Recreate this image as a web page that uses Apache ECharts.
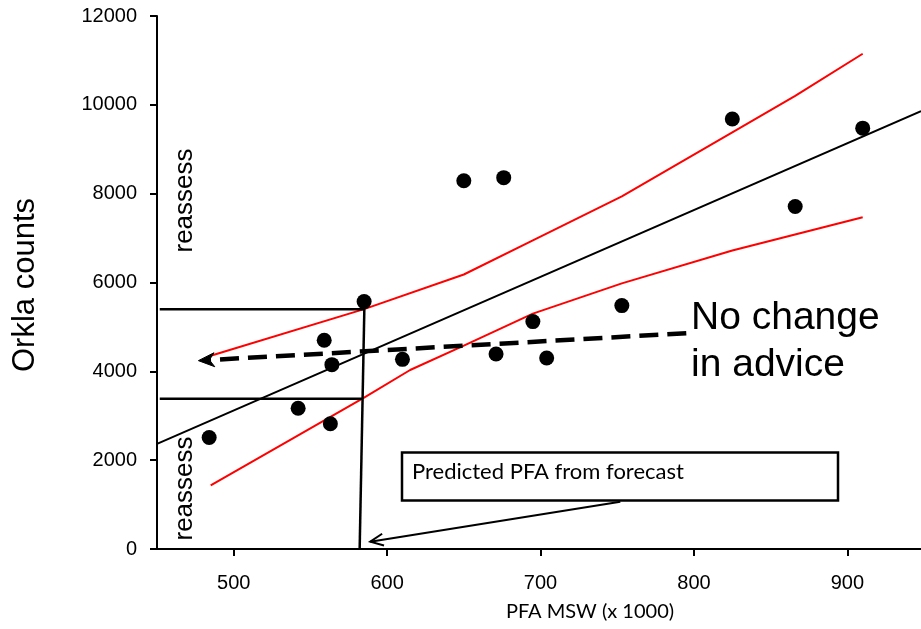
<!DOCTYPE html>
<html>
<head>
<meta charset="utf-8">
<script src="https://cdn.jsdelivr.net/npm/echarts@6/dist/echarts.min.js"></script>
<style>
html,body{margin:0;padding:0;background:#fff;}
#chart{width:921px;height:629px;}
</style>
</head>
<body>
<div id="chart"></div>
<script>
// Observed stock data: PFA MSW (x 1000) vs Orkla counts
const pfa    = [484, 542, 563, 559, 564, 585, 610, 650, 676, 671, 695, 704, 753, 825, 866, 910];
const counts = [2510, 3170, 2820, 4700, 4150, 5570, 4270, 8290, 8360, 4390, 5120, 4300, 5480, 9680, 7710, 9475];

// Regression line end points
const fitX = [450, 948];
const fitY = [2365, 9860];

// Upper and lower prediction bands
const upperX = [485, 585, 650, 695, 753, 825, 866, 910];
const upperY = [4350, 5400, 6180, 6950, 7940, 9380, 10200, 11150];
const lowerX = [485, 540, 585, 615, 650, 695, 753, 825, 910];
const lowerY = [1430, 2520, 3410, 4030, 4580, 5300, 5980, 6720, 7470];

// Predicted PFA guide lines (x, y pairs)
const guideVertX = [585.2, 582.1];
const guideVertY = [5495, 0];
const guideTopX = [451.8, 585];
const guideTopY = [5400, 5400];
const guideBotX = [451.8, 584];
const guideBotY = [3385, 3385];

// Arrows: [x tail, y tail, x tip, y tip]
const adviceArrow = [795, 4858, 477, 4241];
const forecastArrow = [752, 1065, 589, 164];

// Tick labels
const xTicks = [500, 600, 700, 800, 900];

const zip = (xs, ys) => xs.map((x, i) => [x, ys[i]]);

const chart = echarts.init(document.getElementById('chart'), null, {renderer: 'canvas'});

function arrowItem(params, api) {
  const a = api.coord([api.value(0), api.value(1)]);
  const b = api.coord([api.value(2), api.value(3)]);
  const dx = b[0] - a[0], dy = b[1] - a[1];
  const len = Math.sqrt(dx * dx + dy * dy);
  const ux = dx / len, uy = dy / len;
  const px = -uy, py = ux;
  const kind = params.seriesName;
  if (kind === 'advice') {
    const hl = 16, hw = 7, notch = 11;
    const base = [b[0] - ux * notch, b[1] - uy * notch];
    return {
      type: 'group',
      children: [
        {type: 'line', shape: {x1: a[0], y1: a[1], x2: base[0], y2: base[1]},
         style: {stroke: '#000', lineWidth: 4.5, lineDash: [19, 9], fill: null}},
        {type: 'polygon', shape: {points: [
          [b[0], b[1]],
          [b[0] - ux * hl + px * hw, b[1] - uy * hl + py * hw],
          [base[0], base[1]],
          [b[0] - ux * hl - px * hw, b[1] - uy * hl - py * hw]
        ]}, style: {fill: '#000', stroke: '#000', lineWidth: 1}}
      ]
    };
  }
  const hl = 13, hw = 6;
  return {
    type: 'group',
    children: [
      {type: 'line', shape: {x1: a[0], y1: a[1], x2: b[0], y2: b[1]},
       style: {stroke: '#000', lineWidth: 2, fill: null}},
      {type: 'polyline', shape: {points: [
        [b[0] - ux * hl + px * hw, b[1] - uy * hl + py * hw],
        [b[0], b[1]],
        [b[0] - ux * hl - px * hw, b[1] - uy * hl - py * hw]
      ]}, style: {stroke: '#000', lineWidth: 2, fill: null}}
    ]
  };
}

const lineBase = (name, data, color, width) => ({
  name, type: 'line', data, symbol: 'none', silent: true, animation: false,
  lineStyle: {color, width, opacity: 1}, z: 3
});

const option = {
  animation: false,
  backgroundColor: '#fff',
  grid: {left: 157, right: 0, top: 16, bottom: 80, containLabel: false},
  xAxis: {
    type: 'value', min: 450, max: 948,
    axisLine: {show: true, onZero: false, lineStyle: {color: '#000', width: 2}},
    axisTick: {show: true, customValues: xTicks, length: 7, lineStyle: {color: '#000', width: 2}},
    axisLabel: {customValues: xTicks, color: '#000', fontSize: 20, fontFamily: 'Liberation Sans', margin: 24,
                formatter: v => String(v)},
    splitLine: {show: false}
  },
  yAxis: {
    type: 'value', min: 0, max: 12000, interval: 2000,
    axisLine: {show: true, lineStyle: {color: '#000', width: 2}},
    axisTick: {show: true, length: 7, lineStyle: {color: '#000', width: 2}},
    axisLabel: {color: '#000', fontSize: 20, fontFamily: 'Liberation Sans', margin: 20,
                formatter: v => String(v)},
    splitLine: {show: false}
  },
  series: [
    lineBase('fit', zip(fitX, fitY), '#000', 2),
    lineBase('upper', zip(upperX, upperY), '#ff0000', 2),
    lineBase('lower', zip(lowerX, lowerY), '#ff0000', 2),
    lineBase('vert', zip(guideVertX, guideVertY), '#000', 2.5),
    lineBase('top', zip(guideTopX, guideTopY), '#000', 2.5),
    lineBase('bot', zip(guideBotX, guideBotY), '#000', 2.5),
    {
      name: 'advice', type: 'custom', renderItem: arrowItem, data: [adviceArrow],
      encode: {x: [0, 2], y: [1, 3]}, silent: true, clip: false, z: 4
    },
    {
      name: 'forecast', type: 'custom', renderItem: arrowItem, data: [forecastArrow],
      encode: {x: [0, 2], y: [1, 3]}, silent: true, clip: false, z: 4
    },
    {
      name: 'obs', type: 'scatter', data: zip(pfa, counts), symbol: 'circle', symbolSize: 15,
      itemStyle: {color: '#000', opacity: 1}, silent: true, z: 5
    }
  ],
  graphic: [
    {type: 'text', x: 25, y: 285, rotation: Math.PI / 2,
     style: {text: 'Orkla counts', x: 0, y: 0, align: 'center', verticalAlign: 'middle',
             font: '31px "Liberation Sans"', fill: '#000'}},
    {type: 'text', x: 590, y: 612,
     style: {text: 'PFA MSW (x 1000)', x: 0, y: 0, align: 'center', verticalAlign: 'middle',
             font: '20px Lato', fill: '#000'}},
    {type: 'text', x: 185, y: 200.5, rotation: Math.PI / 2,
     style: {text: 'reassess', x: 0, y: 0, align: 'center', verticalAlign: 'middle',
             font: '26px "Liberation Sans"', fill: '#000'}},
    {type: 'text', x: 185, y: 488.5, rotation: Math.PI / 2,
     style: {text: 'reassess', x: 0, y: 0, align: 'center', verticalAlign: 'middle',
             font: '26px "Liberation Sans"', fill: '#000'}},
    {type: 'rect', shape: {x: 402, y: 452.5, width: 436, height: 48},
     style: {fill: '#fff', stroke: '#000', lineWidth: 2.5}, z: 10},
    {type: 'text', x: 412, y: 472, z: 11,
     style: {text: 'Predicted PFA from forecast', x: 0, y: 0, align: 'left', verticalAlign: 'middle',
             font: '22px Lato', fill: '#000'}},
    {type: 'text', x: 691, y: 295, z: 11,
     style: {text: 'No change\nin advice', x: 0, y: 0, align: 'left', verticalAlign: 'top',
             font: '39px "Liberation Sans"', lineHeight: 47, fill: '#000'}}
  ]
};
chart.setOption(option);
</script>
</body>
</html>
